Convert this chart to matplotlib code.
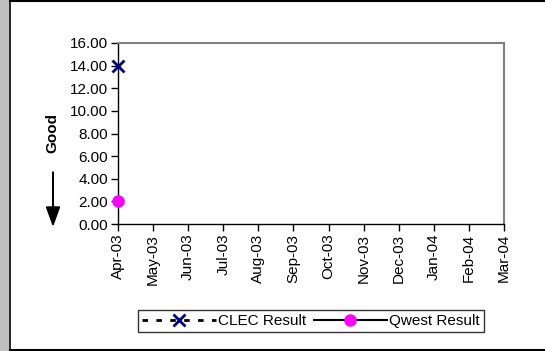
import numpy as np
import matplotlib.pyplot as plt
from matplotlib.patches import Rectangle, FancyArrow

plt.rcParams['font.family'] = ['Liberation Sans', 'DejaVu Sans']

months = ['Apr-03', 'May-03', 'Jun-03', 'Jul-03', 'Aug-03', 'Sep-03',
          'Oct-03', 'Nov-03', 'Dec-03', 'Jan-04', 'Feb-04', 'Mar-04']
clec = [14.0] + [np.nan] * 11
qwest = [2.0] + [np.nan] * 11
yticks = [0, 2, 4, 6, 8, 10, 12, 14, 16]

W, H = 545, 351
FS = 11
fig = plt.figure(figsize=(W / 100, H / 100), dpi=100)
fig.patch.set_facecolor('white')

# gray strip and frame around chart area
fig.patches.append(Rectangle((0, 0), 9 / W, 1, transform=fig.transFigure,
                             facecolor='#c0c0c0', edgecolor='none', zorder=0))
fig.lines.append(plt.Line2D([9.5 / W, 9.5 / W], [0, 1], transform=fig.transFigure,
                            color='black', lw=1.2))
fig.lines.append(plt.Line2D([9.5 / W, 1], [1 - 1 / H, 1 - 1 / H], transform=fig.transFigure,
                            color='black', lw=1.5))
fig.lines.append(plt.Line2D([9.5 / W, 1], [1.5 / H, 1.5 / H], transform=fig.transFigure,
                            color='black', lw=1.5))

left, right, top, bottom = 118, 504, 43, 224
ax = fig.add_axes([left / W, 1 - bottom / H, (right - left) / W, (bottom - top) / H])

x = np.arange(len(months))
ax.plot(x, clec, ls=(0, (2, 3)), color='black', lw=2, marker='x', ms=8,
        mec='#000080', mew=2, label='CLEC Result', clip_on=False, zorder=5)
ax.plot(x, qwest, ls='-', color='black', lw=1.5, marker='o', ms=8,
        mec='#ff00ff', mfc='#ff00ff', label='Qwest Result', clip_on=False, zorder=5)

ax.set_xlim(0, len(months) - 1)
ax.set_ylim(0, 16)
ax.set_xticks(x)
ax.set_xticklabels(months, rotation=90, fontsize=FS)
ax.set_yticks(yticks)
ax.set_yticklabels(['%.2f' % v for v in yticks], fontsize=FS)
ax.tick_params(direction='out', length=5, width=1, color='black', pad=2)

for s in ['top', 'right']:
    ax.spines[s].set_color('#808080')
    ax.spines[s].set_linewidth(1.5)
for s in ['left', 'bottom']:
    ax.spines[s].set_color('black')
    ax.spines[s].set_linewidth(1)

fig.text(52 / W, 1 - 133 / H, 'Good', rotation=90, fontsize=FS, fontweight='bold',
         ha='center', va='center')
fig.patches.append(FancyArrow(
    53 / W, 1 - 172 / H, 0, -(53 / H), width=0.5 / W, head_width=13 / W,
    head_length=18 / H, length_includes_head=True, transform=fig.transFigure,
    color='black'))

leg = fig.legend(loc='center', bbox_to_anchor=(311 / W, 1 - 321 / H), ncol=2,
                 fontsize=FS, frameon=True, fancybox=False, handlelength=4.8,
                 columnspacing=0.5, handletextpad=0.15, borderpad=0.25)
leg.get_frame().set_edgecolor('black')
leg.get_frame().set_linewidth(1)

fig.savefig('out.png', dpi=100)
